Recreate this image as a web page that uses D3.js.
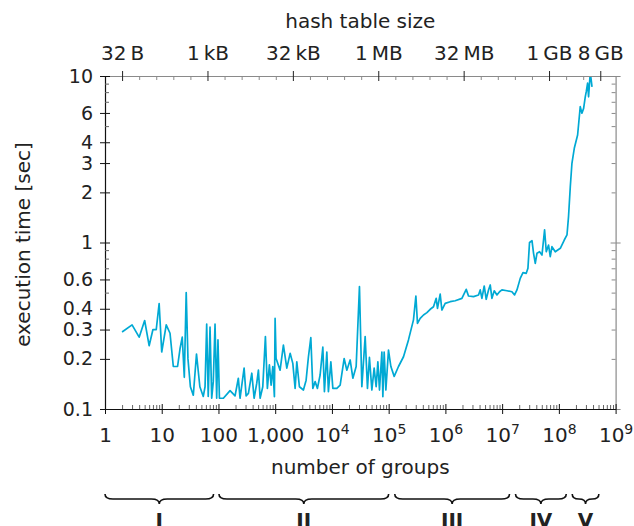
<!DOCTYPE html>
<html>
<head>
<meta charset="utf-8">
<script src="https://cdn.jsdelivr.net/npm/d3@7"></script>
<style>
    body { margin: 0; background: #fff; }
    svg text { font-family: "DejaVu Sans", sans-serif; fill: #222; }
</style>
</head>
<body>
<svg id="Chart"></svg>
<script>
    // number of groups and execution time [sec]
    let groups = [
        2, 3, 4, 5, 6, 7, 8, 9, 10, 12, 14, 16, 19, 21, 23, 25, 27, 29,
        32, 36, 41, 47, 54, 58, 62, 66, 71, 76, 81, 87, 93, 98, 104, 122, 160, 196, 224,
        240, 283, 307, 337, 387, 425, 473, 506, 542, 604,
        672, 728, 790, 847, 907, 968, 996, 1037, 1220, 1395,
        1602, 1833, 2044, 2244, 2404, 2672, 3143, 3507, 3853, 4246,
        4605, 5057, 5550, 6190, 6910, 7375, 8130, 8670, 9570, 10380,
        12200, 13960, 16410, 18320, 20950, 23380, 26730, 30570, 33680, 38510,
        42300, 45840, 50560, 55480, 60200, 64500, 68900, 75900, 79000, 83300,
        89300, 99300, 109400, 125100, 149000, 182600,
        223400, 273700, 301700, 322000, 359500, 411200, 472000, 539700, 617000, 688000,
        725500, 809000, 866800, 991300, 1.216e6, 1.489e6, 1.954e6, 2.328e6, 2.554e6, 3.13e6,
        3.837e6, 4.11e6, 4.4e6, 4.83e6, 5.24e6, 5.76e6, 6.17e6, 6.61e6, 7.26e6, 8.1e6,
        9.0e6, 9.92e6, 1.216e7, 1.489e7, 1.656e7, 1.825e7, 2.086e7, 2.33e7, 2.66e7, 2.85e7,
        3.04e7, 3.36e7, 3.58e7, 3.84e7, 4.11e7, 4.57e7, 5.04e7, 5.6e7, 6.0e7, 6.58e7,
        7.05e7, 7.55e7, 8.64e7, 1.06e8, 1.245e8, 1.39e8, 1.48e8, 1.59e8, 1.70e8, 1.87e8,
        2.14e8, 2.38e8, 2.55e8, 2.73e8, 2.92e8, 3.04e8, 3.21e8, 3.34e8, 3.58e8, 3.84e8
    ]
    let seconds = [
        0.29, 0.32, 0.27, 0.34, 0.24, 0.30, 0.30, 0.43, 0.22, 0.32, 0.285, 0.18, 0.18, 0.23, 0.27, 0.155, 0.50, 0.20,
        0.136, 0.121, 0.214, 0.136, 0.119, 0.136, 0.324, 0.119, 0.31, 0.116, 0.146, 0.323, 0.116, 0.26, 0.116, 0.116, 0.129, 0.12, 0.153,
        0.116, 0.176, 0.12, 0.124, 0.164, 0.116, 0.143, 0.171, 0.116, 0.136,
        0.272, 0.133, 0.184, 0.139, 0.18, 0.1185, 0.35, 0.201, 0.171, 0.242,
        0.176, 0.216, 0.188, 0.133, 0.192, 0.136, 0.13, 0.149, 0.206, 0.268,
        0.133, 0.146, 0.133, 0.16, 0.235, 0.127, 0.22, 0.127, 0.192, 0.133,
        0.133, 0.139, 0.201, 0.171, 0.197, 0.153, 0.18, 0.543, 0.136, 0.272,
        0.133, 0.204, 0.13, 0.176, 0.136, 0.192, 0.13, 0.22, 0.1185, 0.22,
        0.13, 0.226, 0.18, 0.157, 0.18, 0.206,
        0.26, 0.343, 0.477, 0.327, 0.35, 0.367, 0.379, 0.397, 0.411, 0.462,
        0.402, 0.49, 0.393, 0.431, 0.441, 0.447, 0.462, 0.523, 0.477, 0.473,
        0.484, 0.519, 0.462, 0.548, 0.456, 0.519, 0.556, 0.462, 0.513, 0.484,
        0.506, 0.519, 0.513, 0.506, 0.484, 0.519, 0.609, 0.659, 0.653, 0.70,
        1.0, 1.025, 0.861, 0.75, 0.861, 0.88, 0.841, 1.19, 0.88, 0.966,
        0.822, 0.944, 0.88, 0.923, 1.035, 1.11, 1.43, 2.16, 2.99, 3.68,
        4.42, 6.54, 5.98, 6.39, 7.5, 8.05, 9.06, 7.5, 10.5, 8.6
    ]

    let xTickValues = [1, 10, 100, 1000, 1e4, 1e5, 1e6, 1e7, 1e8, 1e9]
    let xTickLabels = ["1", "10", "100", "1,000", "10", "10", "10", "10", "10", "10"]
    let xTickExponents = ["", "", "", "", "4", "5", "6", "7", "8", "9"]

    // hash table size = 16 bytes per group
    let topTickGroups = [2, 64, 2048, 65536, 2097152, 67108864, 536870912]
    let topTickLabels = ["32\u2009B", "1\u2009kB", "32\u2009kB", "1\u2009MB", "32\u2009MB", "1\u2009GB", "8\u2009GB"]

    let yTickValues = [0.1, 0.2, 0.3, 0.4, 0.6, 1, 2, 3, 4, 6, 10]
    let yTickLabels = ["0.1", "0.2", "0.3", "0.4", "0.6", "1", "2", "3", "4", "6", "10"]

    let braceFrom = [1, 102, 1.28e5, 1.72e7, 1.72e8]
    let braceTo = [82, 1e5, 1.35e7, 1.35e8, 5.07e8]
    let braceLabels = ["I", "II", "III", "IV", "V"]

    let lineColor = "#00a9d4"
    let frameGray = "#8a8a8a"

    function getConfig() {
        let width = 634
        let height = 526
        let margin = {top: 76, left: 105, right: 18.4, bottom: 117}
        let bodyWidth = width - margin.left - margin.right
        let bodyHeight = height - margin.top - margin.bottom
        let container = d3.select('#Chart')
            .attr("width", width)
            .attr("height", height)
        return {width, height, margin, bodyWidth, bodyHeight, container}
    }

    function getScales(config) {
        let xScale = d3.scaleLog()
            .domain([1, 1e9])
            .range([0, config.bodyWidth])
        let yScale = d3.scaleLog()
            .domain([0.1, 10])
            .range([config.bodyHeight, 0])
        return {xScale, yScale}
    }

    function styleAxis(g, color, size) {
        g.attr("font-size", size || 20)
            .attr("font-family", "DejaVu Sans, sans-serif")
            .attr("color", color)
        g.selectAll(".tick line").attr("stroke-width", 1)
        g.select(".domain").attr("stroke-width", 1.2)
    }

    function noDomain(g, color) {
        g.attr("color", color)
        g.select(".domain").remove()
    }

    function drawAxes(body, scales, config) {
        let {xScale, yScale} = scales
        let {bodyWidth, bodyHeight} = config

        let decades = [0.1, 1]
        let yMinor = []
        decades.forEach(d => [5, 7, 8, 9].forEach(m => yMinor.push(+(d * m).toFixed(2))))
        let yAllMinor = []
        decades.forEach(d => d3.range(2, 10).forEach(m => yAllMinor.push(+(d * m).toFixed(2))))
        let xMinor = []
        d3.range(0, 9).forEach(e => d3.range(2, 10).forEach(m => xMinor.push(m * Math.pow(10, e))))
        let topMinor = d3.range(0, 30).map(k => Math.pow(2, k)).filter(v => topTickGroups.indexOf(v) < 0)

        // top axis: hash table size (gray frame)
        body.append("g")
            .call(d3.axisTop(xScale).tickValues(topTickGroups)
                .tickFormat((d, i) => topTickLabels[i])
                .tickSize(5).tickSizeOuter(0).tickPadding(11))
            .call(g => styleAxis(g, "#222"))
            .call(g => g.select(".domain").attr("stroke", frameGray))
        body.append("g")
            .call(d3.axisBottom(xScale).tickValues(topTickGroups).tickFormat("").tickSize(5))
            .call(g => noDomain(g, "#222"))
        body.append("g")
            .call(d3.axisBottom(xScale).tickValues(topMinor).tickFormat("").tickSize(4))
            .call(g => noDomain(g, frameGray))

        // right frame
        body.append("g")
            .attr("transform", `translate(${bodyWidth},0)`)
            .call(d3.axisRight(yScale).tickValues([0.1, 1, 10]).tickFormat("").tickSize(5).tickSizeOuter(0))
            .call(g => styleAxis(g, frameGray))
        body.append("g")
            .attr("transform", `translate(${bodyWidth},0)`)
            .call(d3.axisLeft(yScale).tickValues([0.1, 1, 10]).tickFormat("").tickSize(5))
            .call(g => noDomain(g, frameGray))
        body.append("g")
            .attr("transform", `translate(${bodyWidth},0)`)
            .call(d3.axisLeft(yScale).tickValues(yAllMinor).tickFormat("").tickSize(4))
            .call(g => noDomain(g, frameGray))

        // bottom axis: number of groups
        let bottom = body.append("g")
            .attr("transform", `translate(0,${bodyHeight})`)
            .call(d3.axisBottom(xScale).tickValues(xTickValues)
                .tickFormat((d, i) => xTickLabels[i])
                .tickSize(5).tickSizeOuter(0).tickPadding(14))
            .call(g => styleAxis(g, "#111"))
        bottom.selectAll(".tick text").each(function (d, i) {
            if (xTickExponents[i]) {
                d3.select(this).append("tspan")
                    .attr("font-size", 14)
                    .attr("dy", -8)
                    .text(xTickExponents[i])
            }
        })
        body.append("g")
            .attr("transform", `translate(0,${bodyHeight})`)
            .call(d3.axisTop(xScale).tickValues(xTickValues).tickFormat("").tickSize(5))
            .call(g => noDomain(g, "#111"))
        body.append("g")
            .attr("transform", `translate(0,${bodyHeight})`)
            .call(d3.axisTop(xScale).tickValues(xMinor).tickFormat("").tickSize(4))
            .call(g => noDomain(g, "#666"))

        // left axis: execution time
        body.append("g")
            .call(d3.axisLeft(yScale).tickValues(yTickValues)
                .tickFormat((d, i) => yTickLabels[i])
                .tickSize(5).tickSizeOuter(0).tickPadding(7))
            .call(g => styleAxis(g, "#111", 19))
        body.append("g")
            .call(d3.axisRight(yScale).tickValues(yTickValues).tickFormat("").tickSize(5))
            .call(g => noDomain(g, "#111"))
        body.append("g")
            .call(d3.axisRight(yScale).tickValues(yMinor).tickFormat("").tickSize(4))
            .call(g => noDomain(g, "#666"))
    }

    function drawLine(body, scales, config) {
        let {xScale, yScale} = scales
        let points = groups.map((g, i) => [g, seconds[i]])

        body.append("clipPath")
            .attr("id", "plotClip")
            .append("rect")
            .attr("width", config.bodyWidth)
            .attr("height", config.bodyHeight)

        let line = d3.line()
            .x(d => xScale(d[0]))
            .y(d => yScale(d[1]))

        body.append("path")
            .datum(points)
            .attr("clip-path", "url(#plotClip)")
            .attr("d", line)
            .attr("fill", "none")
            .attr("stroke", lineColor)
            .attr("stroke-width", 1.7)
            .attr("stroke-linejoin", "round")
    }

    function drawTitles(config) {
        let {container, margin, bodyWidth, bodyHeight} = config
        let cx = margin.left + bodyWidth / 2
        container.append("text")
            .attr("x", cx).attr("y", 28)
            .attr("text-anchor", "middle")
            .attr("font-size", 20)
            .text("hash table size")
        container.append("text")
            .attr("x", cx).attr("y", 474)
            .attr("text-anchor", "middle")
            .attr("font-size", 20)
            .text("number of groups")
        container.append("text")
            .attr("transform", `translate(30,${margin.top + bodyHeight / 2 + 2}) rotate(-90)`)
            .attr("text-anchor", "middle")
            .attr("font-size", 20)
            .text("execution time [sec]")
    }

    function drawBraces(scales, config) {
        let {xScale} = scales
        let {container, margin} = config
        let y0 = 494, y1 = 499, y2 = 504
        let g = container.append("g")
            .attr("transform", `translate(${margin.left},0)`)

        braceLabels.forEach((label, i) => {
            let x0 = xScale(braceFrom[i])
            let x1 = xScale(braceTo[i])
            let xm = (x0 + x1) / 2
            let q = Math.min(8, (x1 - x0) / 4)
            let p = d3.path()
            p.moveTo(x0, y0)
            p.quadraticCurveTo(x0, y1, x0 + q, y1)
            p.lineTo(xm - q, y1)
            p.quadraticCurveTo(xm, y1, xm, y2)
            p.quadraticCurveTo(xm, y1, xm + q, y1)
            p.lineTo(x1 - q, y1)
            p.quadraticCurveTo(x1, y1, x1, y0)
            g.append("path")
                .attr("d", p.toString())
                .attr("fill", "none")
                .attr("stroke", "#111")
                .attr("stroke-width", 1.6)
            g.append("text")
                .attr("x", xm).attr("y", 527)
                .attr("text-anchor", "middle")
                .attr("font-size", 20)
                .attr("font-weight", "bold")
                .text(label)
        })
    }

    function drawChart() {
        let config = getConfig()
        let scales = getScales(config)
        let body = config.container.append("g")
            .attr("transform", `translate(${config.margin.left},${config.margin.top})`)
        drawLine(body, scales, config)
        drawAxes(body, scales, config)
        drawTitles(config)
        drawBraces(scales, config)
    }

    drawChart()
</script>
</body>
</html>
